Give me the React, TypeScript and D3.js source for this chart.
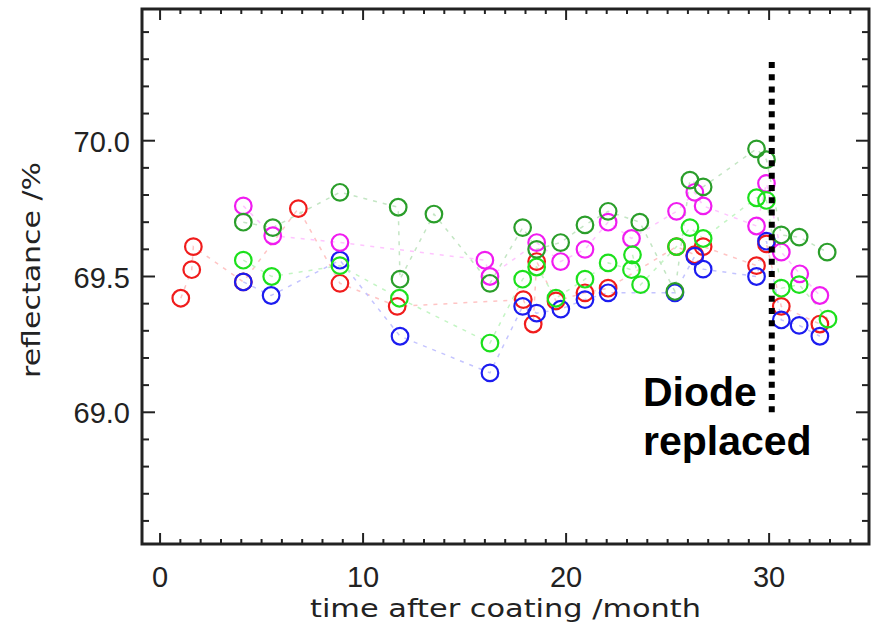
import React from "react";
import * as d3 from "d3";

type Pt = [number, number];

const xTickValues = [0, 10, 20, 30];
const yTickValues = [69.0, 69.5, 70.0];
const xTickLabels = ["0", "10", "20", "30"];
const yTickLabels = ["69.0", "69.5", "70.0"];
const xTitle = "time after coating /month";
const yTitle = "reflectance  /%";
const noteLines = ["Diode", "replaced"];
const diodeMonth = 30.13;
const diodeRange: Pt = [69.0, 70.29];

const redPts: Pt[] = [
  [1.02, 69.42], [1.56, 69.525], [1.64, 69.61], [4.1, 69.48], [6.81, 69.75],
  [8.86, 69.475], [11.68, 69.39], [17.89, 69.415], [18.38, 69.325], [18.55, 69.555],
  [19.5, 69.41], [20.93, 69.44], [22.07, 69.457], [25.44, 69.61], [26.34, 69.58],
  [26.75, 69.61], [29.38, 69.54], [29.87, 69.62], [30.6, 69.39], [32.5, 69.325],
];
const bluePts: Pt[] = [
  [4.1, 69.48], [5.47, 69.43], [8.86, 69.56], [11.82, 69.28], [16.25, 69.145],
  [17.86, 69.39], [18.55, 69.365], [19.74, 69.38], [20.93, 69.415], [22.07, 69.44],
  [25.36, 69.44], [26.34, 69.575], [26.75, 69.527], [29.38, 69.5], [29.87, 69.63],
  [30.6, 69.34], [31.48, 69.32], [32.5, 69.28],
];
const magentaPts: Pt[] = [
  [4.1, 69.76], [5.55, 69.65], [8.86, 69.625], [16.0, 69.56], [16.25, 69.5],
  [18.55, 69.625], [19.73, 69.555], [20.93, 69.6], [22.07, 69.7], [23.22, 69.64],
  [25.44, 69.74], [26.34, 69.81], [26.75, 69.76], [29.38, 69.686], [29.87, 69.843],
  [30.6, 69.59], [31.51, 69.51], [32.5, 69.43],
];
const lightGreenPts: Pt[] = [
  [4.1, 69.56], [5.5, 69.5], [8.86, 69.54], [11.79, 69.42], [16.25, 69.255],
  [17.86, 69.49], [18.55, 69.535], [19.5, 69.42], [20.93, 69.49], [22.07, 69.55],
  [23.22, 69.525], [23.27, 69.58], [23.67, 69.47], [25.44, 69.61], [26.1, 69.68],
  [26.75, 69.64], [29.38, 69.79], [29.87, 69.78], [30.6, 69.457], [31.48, 69.47],
  [32.9, 69.343],
];
const darkGreenPts: Pt[] = [
  [4.1, 69.7], [5.55, 69.68], [8.86, 69.81], [11.73, 69.755], [11.82, 69.49],
  [13.49, 69.73], [16.25, 69.475], [17.86, 69.68], [18.55, 69.6], [19.73, 69.625],
  [20.93, 69.69], [22.07, 69.74], [23.63, 69.7], [25.36, 69.445], [26.1, 69.855],
  [26.75, 69.83], [29.38, 69.97], [29.87, 69.93], [30.6, 69.653], [31.48, 69.645],
  [32.86, 69.59],
];

const seriesList = [
  { pts: redPts, color: "#f01c1c", line: "#ffc4c4" },
  { pts: bluePts, color: "#1c1cf0", line: "#c4c4ff" },
  { pts: magentaPts, color: "#f01cf0", line: "#ffc4ff" },
  { pts: lightGreenPts, color: "#1ce01c", line: "#c4f5c4" },
  { pts: darkGreenPts, color: "#2a9e2a", line: "#c4e6c4" },
];

const W = 874;
const H = 634;
const L = 142, R = 869, T = 9, B = 544;

export default function App() {
  const x = d3.scaleLinear().domain([-0.89, 34.92]).range([L, R]);
  const y = d3.scaleLinear().domain([68.515, 70.485]).range([B, T]);
  const line = d3
    .line<Pt>()
    .x((d) => x(d[0]))
    .y((d) => y(d[1]));

  const xMinor = d3.range(0, 35, 1).filter((v) => v % 10 !== 0);
  const yMinor = d3.range(68.6, 70.45, 0.1).map((v) => Math.round(v * 10) / 10).filter((v) => Math.round(v * 10) % 5 !== 0);
  const ink = "#222";

  return (
    <svg width={W} height={H} style={{ position: "absolute", left: 0, top: 0, background: "#fff" }}>
      <rect x={0} y={0} width={W} height={H} fill="#fff" />
      {seriesList.map((s, i) => (
        <path key={"l" + i} d={line([...s.pts].sort((a, b) => a[0] - b[0])) || ""} fill="none" stroke={s.line} strokeWidth={1.5} strokeDasharray="4 6" />
      ))}
      {seriesList.map((s, i) => (
        <g key={"m" + i}>
          {s.pts.map((p, j) => (
            <circle key={j} cx={x(p[0])} cy={y(p[1])} r={8.3} fill="none" stroke={s.color} strokeWidth={2.2} />
          ))}
        </g>
      ))}
      <g stroke={ink} strokeWidth={2}>
        {xTickValues.map((v) => (
          <g key={"xt" + v}>
            <line x1={x(v)} x2={x(v)} y1={B} y2={B - 11} />
            <line x1={x(v)} x2={x(v)} y1={T} y2={T + 11} />
          </g>
        ))}
        {xMinor.map((v) => (
          <g key={"xm" + v}>
            <line x1={x(v)} x2={x(v)} y1={B} y2={B - 5} />
            <line x1={x(v)} x2={x(v)} y1={T} y2={T + 5} />
          </g>
        ))}
        {yTickValues.map((v) => (
          <g key={"yt" + v}>
            <line x1={L} x2={L + 13} y1={y(v)} y2={y(v)} />
            <line x1={R} x2={R - 13} y1={y(v)} y2={y(v)} />
          </g>
        ))}
        {yMinor.map((v) => (
          <g key={"ym" + v}>
            <line x1={L} x2={L + 7} y1={y(v)} y2={y(v)} />
            <line x1={R} x2={R - 7} y1={y(v)} y2={y(v)} />
          </g>
        ))}
      </g>
      <rect x={L} y={T} width={R - L} height={B - T} fill="none" stroke={ink} strokeWidth={3} />
      <g fontFamily="'Liberation Sans', Arial, sans-serif" fontSize={29} fill={ink}>
        {xTickValues.map((v, i) => (
          <text key={"xl" + v} x={x(v)} y={587} textAnchor="middle">{xTickLabels[i]}</text>
        ))}
        {yTickValues.map((v, i) => (
          <text key={"yl" + v} x={130} y={y(v) + 11} textAnchor="end">{yTickLabels[i]}</text>
        ))}
      </g>
      <text x={(L + R) / 2} y={617} textAnchor="middle" fontFamily="'DejaVu Sans', sans-serif" fontSize={24} fill={ink} textLength={391} lengthAdjust="spacingAndGlyphs">{xTitle}</text>
      <text transform={`translate(40, 270) rotate(-90)`} textAnchor="middle" fontFamily="'DejaVu Sans', sans-serif" fontSize={24} fill={ink} textLength={216} lengthAdjust="spacingAndGlyphs">{yTitle}</text>
      <line x1={x(diodeMonth)} x2={x(diodeMonth)} y1={y(diodeRange[1])} y2={y(diodeRange[0])} stroke="#000" strokeWidth={6} strokeDasharray="6 6.3" />
      <g fontFamily="'Liberation Sans', Arial, sans-serif" fontSize={41} fontWeight="bold" fill="#000">
        <text x={643} y={406}>{noteLines[0]}</text>
        <text x={643} y={455}>{noteLines[1]}</text>
      </g>
    </svg>
  );
}
